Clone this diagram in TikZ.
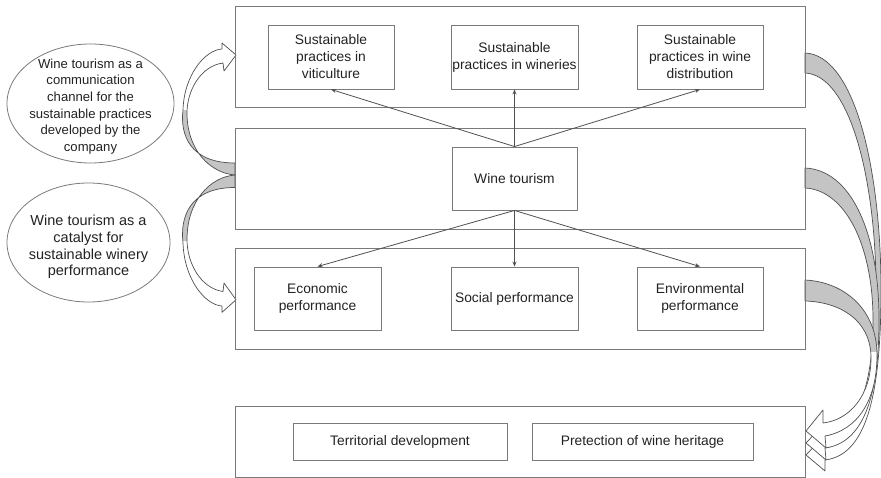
\documentclass[tikz,border=0pt]{standalone}
\usepackage{fontspec}
\setmainfont{Liberation Sans}
\usetikzlibrary{arrows.meta,shapes.geometric}
\definecolor{boxgray}{HTML}{7A7A7A}
\definecolor{linegray}{HTML}{505050}
\definecolor{bandgray}{HTML}{C4C4C4}
\definecolor{txt}{HTML}{222222}
\tikzset{
 leftA/.style={insert path={(235,163) .. controls (190,163) and (180,135) .. (183,110) .. controls (184,75) and (205,50) .. (222,49) -- (222,43) -- (236,55) -- (224,71) -- (223,63) .. controls (201,66) and (187,90) .. (187,113) .. controls (187,150) and (210,173) .. (235,175) -- cycle}},
 leftB/.style={insert path={(235,187.5) .. controls (190,187.5) and (180,216.6) .. (183,242.6) .. controls (184,279) and (205,305) .. (222,306) -- (222,312.3) -- (236,299.8) -- (224,283) -- (223,291.5) .. controls (201,288.4) and (187,263.4) .. (187,239.5) .. controls (187,201) and (210,177) .. (235,175) -- cycle}},
 bandA/.style={insert path={(805,53) .. controls (855,55) and (881,170) .. (881,290) .. controls (881,400) and (865,455) .. (825,460) -- (825,471) -- (806,455) -- (823,437) -- (824,448) .. controls (860,443) and (876,400) .. (876,290) .. controls (876,180) and (850,75) .. (805,73) -- cycle}},
 bandB/.style={insert path={(805,168) .. controls (850,170) and (879,230) .. (879,320) .. controls (879,400) and (862,443) .. (825,448) -- (826,460) -- (806,443) -- (823,425) -- (824,436) .. controls (855,432) and (873,390) .. (873,320) .. controls (873,245) and (845,190) .. (805,188) -- cycle}},
 bandC/.style={insert path={(805,280) .. controls (845,282) and (877,310) .. (877,355) .. controls (877,400) and (858,430) .. (825,436) -- (826,448) -- (806,431) -- (823,410) -- (823,423) .. controls (850,420) and (871,395) .. (871,358) .. controls (871,320) and (840,302) .. (805,301) -- cycle}},
}
\begin{document}
\begin{tikzpicture}[x=1pt,y=-1pt,
 bigbox/.style={draw=boxgray,line width=0.9pt,inner sep=0pt,minimum width=570pt},
 inbox/.style={draw=boxgray,line width=0.9pt,inner sep=0pt,align=center,text=txt,font=\fontsize{13.8}{17}\selectfont},
 ell/.style={draw=boxgray,line width=0.8pt,ellipse,inner sep=0pt},
 etext/.style={align=center,text=txt,inner sep=0pt},
 conn/.style={draw=linegray,line width=0.8pt,-{Stealth[length=5pt,width=4pt]}},
 bandline/.style={draw=linegray,line width=0.7pt,line join=round},
]
\useasboundingbox (0,0) rectangle (881,478);

% left curved arrows
\fill[white, leftA];
\begin{scope}\clip (170,111) rectangle (240,180); \fill[bandgray, leftA]; \end{scope}
\draw[bandline, leftA];
\fill[white, leftB];
\begin{scope}\clip (170,170) rectangle (240,241); \fill[bandgray, leftB]; \end{scope}
\draw[bandline, leftB];

% right curved arrows
\fill[white, bandA];
\begin{scope}\clip (800,0) rectangle (882,335); \fill[bandgray, bandA]; \end{scope}
\draw[bandline, bandA];
\fill[white, bandB];
\begin{scope}\clip (800,0) rectangle (882,345); \fill[bandgray, bandB]; \end{scope}
\draw[bandline, bandB];
\fill[white, bandC];
\begin{scope}\clip (800,0) rectangle (882,352); \fill[bandgray, bandC]; \end{scope}
\draw[bandline, bandC];

% big boxes
\node[bigbox, minimum height=101pt] (b1) at (520,56.5) {};
\node[bigbox, minimum height=101pt] (b2) at (520,178.5) {};
\node[bigbox, minimum height=101pt] (b3) at (520,298.5) {};
\node[bigbox, minimum height=71pt] (b4) at (520,441.5) {};

% top row
\node[inbox, minimum width=126pt, minimum height=64pt] (vit) at (331,57) {Sustainable\\practices in\\viticulture};
\node[inbox, minimum width=127pt, minimum height=64pt] (win) at (514.5,57) {Sustainable\\practices in wineries};
\node[inbox, minimum width=126pt, minimum height=64pt] (dis) at (700,57) {Sustainable\\practices in wine\\distribution};

% middle
\node[inbox, minimum width=125pt, minimum height=63pt] (wt) at (514.5,178.5) {Wine tourism};

% bottom row
\node[inbox, minimum width=127pt, minimum height=63pt] (eco) at (317.5,298.5) {Economic\\performance};
\node[inbox, minimum width=127pt, minimum height=63pt] (soc) at (514.5,298.5) {Social performance};
\node[inbox, minimum width=126pt, minimum height=63pt] (env) at (700,298.5) {Environmental\\performance};

% box 4
\node[inbox, minimum width=214pt, minimum height=37pt] (ter) at (400,441.5) {Territorial development};
\node[inbox, minimum width=221pt, minimum height=37pt] (her) at (642.5,441.5) {Pretection of wine heritage};

% connectors
\draw[conn] (wt.north) -- (vit.south);
\draw[conn] (wt.north) -- (win.south);
\draw[conn] (wt.north) -- (dis.south);
\draw[conn] (wt.south) -- (eco.north);
\draw[conn] (wt.south) -- (soc.north);
\draw[conn] (wt.south) -- (env.north);

% ellipses
\node[ell, minimum width=167pt, minimum height=119pt] (e1) at (90.5,103.5) {};
\node[etext, font=\fontsize{13.1}{16.6}\selectfont] (t1) at (90.5,106.5) {Wine tourism as a\\communication\\channel for the\\sustainable practices\\developed by the\\company};
\node[ell, minimum width=163pt, minimum height=119pt] (e2) at (88.5,242.5) {};
\node[etext, font=\fontsize{14.5}{16.8}\selectfont] (t2) at (88.5,247) {Wine tourism as a\\catalyst for\\sustainable winery\\performance};
\end{tikzpicture}
\end{document}
